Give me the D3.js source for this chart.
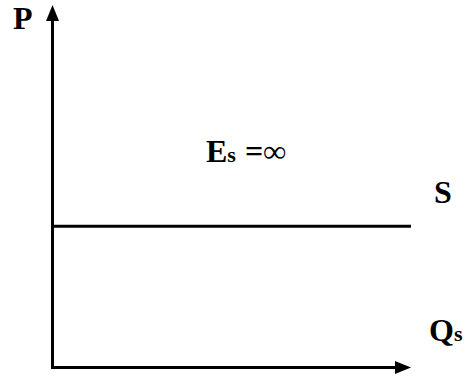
<!DOCTYPE html>
<html>
<head>
<meta charset="utf-8">
<script src="https://cdn.jsdelivr.net/npm/d3@7"></script>
<style>
  body { margin: 0; background: #fff; }
  text { font-family: "Liberation Serif", "Times New Roman", serif; font-weight: bold; fill: #000; }
</style>
</head>
<body>
<div id="chart"></div>
<script>
// perfectly elastic supply: price stays the same for any quantity
const quantity = [0, 10];
const price = [3.9, 3.9];
const axisMax = 10;

const width = 465, height = 383;
const margin = { top: 5, right: 54, bottom: 15.5, left: 52.5 };

const svg = d3.select("#chart").append("svg")
  .attr("width", width)
  .attr("height", height);

const x = d3.scaleLinear().domain([0, axisMax]).range([margin.left, width - margin.right]);
const y = d3.scaleLinear().domain([0, axisMax]).range([height - margin.bottom, margin.top]);

const head = 16, half = 6.5;

// y axis (P)
svg.append("line")
  .attr("x1", x(0)).attr("x2", x(0))
  .attr("y1", y(0) + 1.5).attr("y2", y(axisMax) + head)
  .attr("stroke", "#000").attr("stroke-width", 3);
svg.append("path")
  .attr("d", `M${x(0)},${y(axisMax)} L${x(0) - half},${y(axisMax) + head} L${x(0) + half},${y(axisMax) + head}Z`)
  .attr("fill", "#000");

// x axis (Qs)
svg.append("line")
  .attr("x1", x(0) - 1.5).attr("x2", x(axisMax) - head)
  .attr("y1", y(0)).attr("y2", y(0))
  .attr("stroke", "#000").attr("stroke-width", 3);
svg.append("path")
  .attr("d", `M${x(axisMax)},${y(0)} L${x(axisMax) - head},${y(0) - half} L${x(axisMax) - head},${y(0) + half}Z`)
  .attr("fill", "#000");

// supply line
const line = d3.line().x((d, i) => x(quantity[i])).y((d, i) => y(price[i]));
svg.append("path")
  .datum(quantity)
  .attr("d", line)
  .attr("fill", "none")
  .attr("stroke", "#000")
  .attr("stroke-width", 3);

// labels
svg.append("text").attr("x", 13).attr("y", 29).style("font-size", "32px").text("P");
svg.append("text").attr("x", 434).attr("y", 203).style("font-size", "32px").text("S");

const q = svg.append("text").attr("x", 429).attr("y", 341).style("font-size", "32px");
q.append("tspan").text("Q");
q.append("tspan").style("font-size", "22px").text("s");

const es = svg.append("text").attr("x", 206).attr("y", 162).style("font-size", "32px");
es.append("tspan").text("E");
es.append("tspan").style("font-size", "22px").text("s");
es.append("tspan").attr("dx", 9).text("=");
es.append("tspan").text("∞");
</script>
</body>
</html>
